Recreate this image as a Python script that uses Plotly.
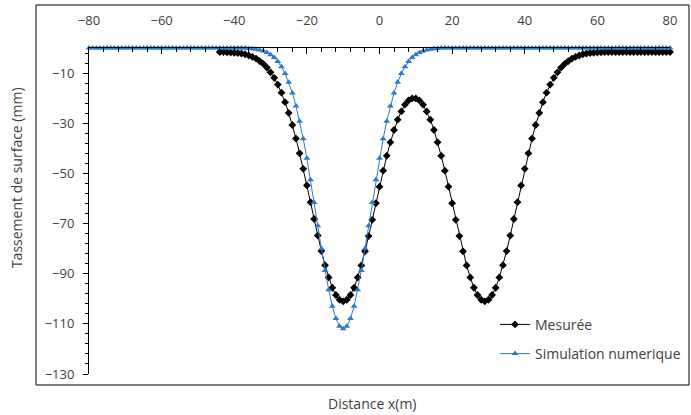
import plotly.graph_objects as go

# Distances (m)
x_mesuree = list(range(-44, 81))
x_simulation = list(range(-80, 81))

# Measured settlement (mm), x = -44 .. 80
y_mesuree = [
    -1.6, -1.6, -1.7, -1.8, -1.9, -2.0, -2.2, -2.5, -3.0, -3.5,
    -4.2, -5.2, -6.3, -7.8, -9.7, -11.9, -14.6, -17.8, -21.6, -25.9,
    -30.7, -36.1, -42.0, -48.2, -54.8, -61.5, -68.2, -74.8, -81.0, -86.6,
    -91.5, -95.6, -98.5, -100.4, -101.0, -100.4, -98.5, -95.6, -91.5, -86.7,
    -81.1, -75.0, -68.5, -61.9, -55.3, -48.9, -43.0, -37.6, -32.7, -28.6,
    -25.3, -22.6, -20.9, -20.1, -20.1, -20.9, -22.6, -25.3, -28.6, -32.7,
    -37.6, -43.0, -48.9, -55.3, -61.9, -68.5, -75.0, -81.1, -86.7, -91.5,
    -95.6, -98.5, -100.4, -101.0, -100.4, -98.5, -95.6, -91.5, -86.6, -81.0,
    -74.8, -68.2, -61.5, -54.8, -48.2, -42.0, -36.1, -30.7, -25.9, -21.6,
    -17.8, -14.6, -11.9, -9.7, -7.8, -6.3, -5.2, -4.2, -3.5, -3.0,
    -2.5, -2.2, -2.0, -1.9, -1.8, -1.7, -1.6, -1.6, -1.6, -1.6,
    -1.6, -1.6, -1.6, -1.6, -1.6, -1.6, -1.6, -1.6, -1.6, -1.6,
    -1.6, -1.6, -1.6, -1.6, -1.6,
]

# Numerical simulation (mm), x = -80 .. 80
y_simulation = (
    [0.0] * 44
    + [
        -0.2, -0.3, -0.5, -0.8, -1.2, -1.8, -2.7, -3.8, -5.4, -7.5,
        -10.2, -13.7, -17.9, -23.1, -29.2, -36.2, -44.0, -52.5, -61.6, -70.9,
        -80.0, -88.7, -96.4, -103.0, -107.9, -111.0, -112.0, -111.0, -107.9, -103.0,
        -96.4, -88.7, -80.0, -70.9, -61.6, -52.5, -44.0, -36.2, -29.2, -23.1,
        -17.9, -13.7, -10.2, -7.5, -5.4, -3.8, -2.7, -1.8, -1.2, -0.8,
        -0.5, -0.3, -0.2,
    ]
    + [0.0] * 64
)

x_ticks = [-80, -60, -40, -20, 0, 20, 40, 60, 80]
y_ticks = [-130, -110, -90, -70, -50, -30, -10]

FONT = "Open Sans"
BLUE = "#2E7BC4"
TEXT = "#404040"

fig = go.Figure()
fig.add_trace(go.Scatter(
    x=x_mesuree, y=y_mesuree, name="Mesurée", mode="lines+markers",
    line=dict(color="black", width=1),
    marker=dict(symbol="diamond", size=6, color="black"),
    legendgroup="a", cliponaxis=False,
))
fig.add_trace(go.Scatter(
    x=x_simulation, y=y_simulation, name="Simulation numerique", mode="lines+markers",
    line=dict(color=BLUE, width=1),
    marker=dict(symbol="triangle-up", size=6, color=BLUE),
    legendgroup="b", cliponaxis=False,
))

fig.update_layout(
    width=691, height=415,
    margin=dict(l=89, r=21, t=48, b=41, autoexpand=False),
    paper_bgcolor="white", plot_bgcolor="white",
    font=dict(family=FONT, size=13, color=TEXT),
    showlegend=True,
    legend=dict(
        xref="container", yref="paper",
        x=0.7164, y=0.20, xanchor="left", yanchor="top",
        bgcolor="rgba(0,0,0,0)", traceorder="grouped", tracegroupgap=8,
        font=dict(family=FONT, size=14, color=TEXT),
    ),
    xaxis=dict(
        range=[-80, 80], side="top", tickvals=x_ticks,
        showline=True, linecolor="black", linewidth=1,
        ticks="inside", ticklen=6, tickcolor="black",
        minor=dict(dtick=4, ticks="inside", ticklen=4, tickcolor="black"),
        showgrid=False, zeroline=False, ticklabelstandoff=17,
        tickfont=dict(family=FONT, size=13, color=TEXT),
    ),
    yaxis=dict(
        range=[-130, 0], tickvals=y_ticks,
        showline=True, linecolor="black", linewidth=1,
        ticks="outside", ticklen=5, tickcolor="black",
        minor=dict(dtick=4, tick0=-130, ticks="outside", ticklen=3, tickcolor="black"),
        showgrid=False, zeroline=False, ticklabelstandoff=6,
        tickfont=dict(family=FONT, size=13, color=TEXT),
    ),
    shapes=[dict(
        type="rect", xref="paper", yref="paper",
        x0=-0.0912, x1=1.0327, y0=-0.0337, y1=1.1319,
        line=dict(color="black", width=1), fillcolor="rgba(0,0,0,0)", layer="below",
    )],
    annotations=[
        dict(text="Tassement de surface (mm)", xref="paper", yref="paper",
             x=-0.1256, y=0.601, xanchor="center", yanchor="middle",
             textangle=-90, showarrow=False,
             font=dict(family=FONT, size=14, color=TEXT)),
        dict(text="Distance x(m)", xref="paper", yref="paper",
             x=0.487, y=-0.089, xanchor="center", yanchor="middle",
             showarrow=False,
             font=dict(family=FONT, size=14, color=TEXT)),
    ],
)

fig.write_html("out.html", config={"displayModeBar": False},
               post_script="document.body.style.margin='0';")
